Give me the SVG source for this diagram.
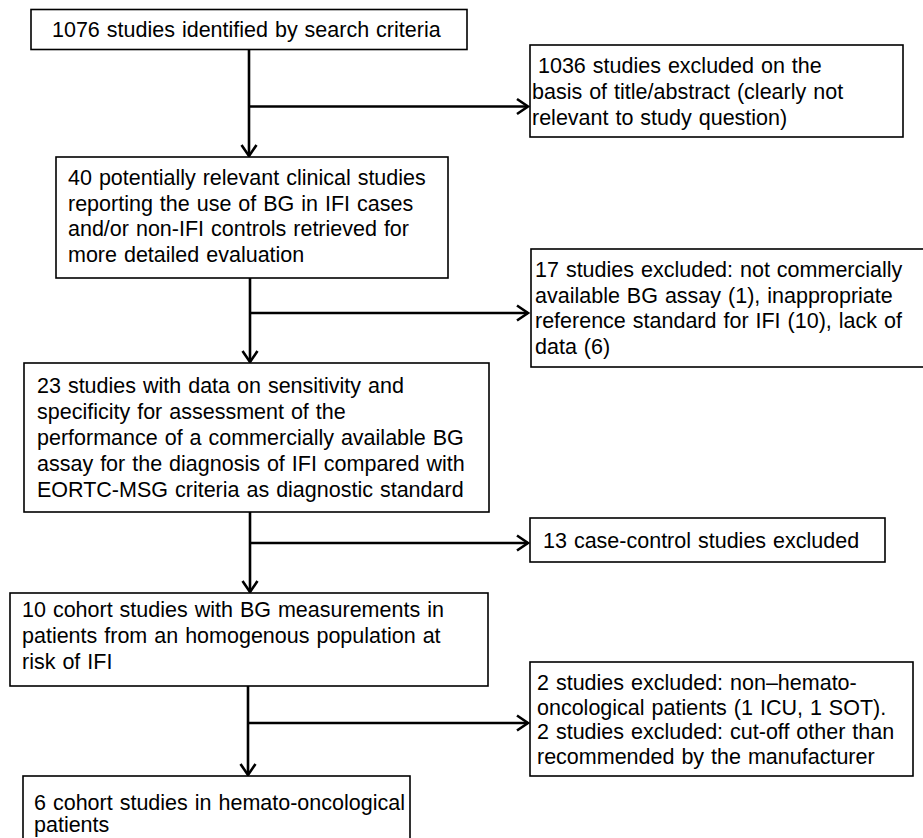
<svg xmlns="http://www.w3.org/2000/svg" width="923" height="838" viewBox="0 0 923 838">
<style>
.box{fill:#fff;stroke:#000;stroke-width:1.6}
.t{font-family:"Liberation Sans",Arial,sans-serif;font-size:21.5px;fill:#000;word-spacing:1px}
.c{fill:none;stroke:#000;stroke-width:2.6}
</style>
<defs>
<marker id="ah" markerUnits="userSpaceOnUse" markerWidth="16" markerHeight="20" viewBox="-13 -10 16 20" refX="0" refY="0" orient="auto">
<path d="M-11,-7.5 L0,0 L-11,7.5" fill="none" stroke="#000" stroke-width="2.6"/>
</marker>
</defs>
<rect width="923" height="838" fill="#fff"/>
<g id="connectors">
<line class="c" x1="249" y1="49" x2="249" y2="156" marker-end="url(#ah)"/>
<line class="c" x1="249" y1="106.5" x2="528" y2="106.5" marker-end="url(#ah)"/>
<line class="c" x1="250" y1="278" x2="250" y2="362" marker-end="url(#ah)"/>
<line class="c" x1="250" y1="313" x2="528" y2="313" marker-end="url(#ah)"/>
<line class="c" x1="250" y1="512" x2="250" y2="592" marker-end="url(#ah)"/>
<line class="c" x1="250" y1="543" x2="528" y2="543" marker-end="url(#ah)"/>
<line class="c" x1="248" y1="686" x2="248" y2="775" marker-end="url(#ah)"/>
<line class="c" x1="248" y1="723" x2="528" y2="723" marker-end="url(#ah)"/>
</g>
<g id="n1">
<rect class="box" x="31" y="9.5" width="436" height="40"/>
<text class="t" x="52" y="37">1076 studies identified by search criteria</text>
</g>
<g id="n2">
<rect class="box" x="530" y="45" width="373" height="92"/>
<text class="t" x="538" y="73">1036 studies excluded on the</text>
<text class="t" x="532" y="99">basis of title/abstract  (clearly not</text>
<text class="t" x="532" y="125">relevant to study question)</text>
</g>
<g id="n3">
<rect class="box" x="56" y="157" width="392" height="121"/>
<text class="t" x="68" y="185">40 potentially relevant clinical studies</text>
<text class="t" x="68" y="210.5">reporting the use of BG in IFI cases</text>
<text class="t" x="68" y="236">and/or non-IFI controls retrieved for</text>
<text class="t" x="68" y="262">more detailed evaluation</text>
</g>
<g id="n4">
<rect class="box" x="531" y="249" width="400" height="118"/>
<text class="t" x="535" y="277">17 studies excluded: not commercially</text>
<text class="t" x="535" y="302.5">available BG assay (1), inappropriate</text>
<text class="t" x="535" y="328">reference standard for IFI (10), lack of</text>
<text class="t" x="535" y="354">data (6)</text>
</g>
<g id="n5">
<rect class="box" x="24" y="363" width="465" height="149"/>
<text class="t" x="37" y="393">23 studies with data on sensitivity and</text>
<text class="t" x="37" y="419">specificity for assessment of the</text>
<text class="t" x="37" y="445">performance of a commercially available BG</text>
<text class="t" x="37" y="471">assay for the diagnosis of IFI compared with</text>
<text class="t" x="37" y="497">EORTC-MSG criteria as diagnostic standard</text>
</g>
<g id="n6">
<rect class="box" x="530" y="518" width="355" height="44"/>
<text class="t" x="543" y="548">13 case-control studies excluded</text>
</g>
<g id="n7">
<rect class="box" x="10" y="593" width="478" height="93"/>
<text class="t" x="22" y="617">10 cohort studies with BG measurements in</text>
<text class="t" x="22" y="643">patients from an homogenous population at</text>
<text class="t" x="22" y="669">risk of IFI</text>
</g>
<g id="n8">
<rect class="box" x="530" y="662" width="383" height="114"/>
<text class="t" x="537" y="690">2 studies excluded: non–hemato-</text>
<text class="t" x="537" y="714.5">oncological patients (1 ICU, 1 SOT).</text>
<text class="t" x="537" y="739">2 studies excluded: cut-off other than</text>
<text class="t" x="537" y="763.5">recommended by the manufacturer</text>
</g>
<g id="n9">
<rect class="box" x="23" y="776" width="387" height="70"/>
<text class="t" x="34" y="810">6 cohort studies in hemato-oncological</text>
<text class="t" x="34" y="832">patients</text>
</g>
</svg>
